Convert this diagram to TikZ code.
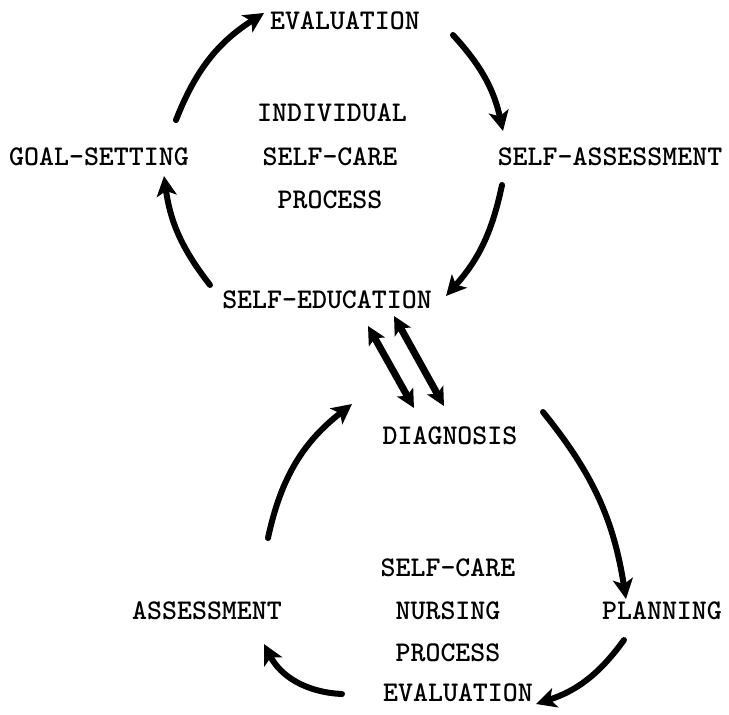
\documentclass[tikz,border=0pt]{standalone}
\usetikzlibrary{arrows.meta}
\begin{document}
\begin{tikzpicture}[x=1pt,y=-1pt,
  lbl/.style={font=\fontsize{28.5}{30}\selectfont\ttfamily\bfseries, inner sep=0pt},
  flow/.style={line width=6pt, line cap=round, -{Stealth[length=20pt,width=20pt,inset=5pt]}},
  twoway/.style={line width=7pt, {Stealth[length=18pt,width=18pt,inset=4pt]}-{Stealth[length=18pt,width=18pt,inset=4pt]}}]
\useasboundingbox (0,0) rectangle (729,715);

% upper cycle: individual self-care process
\node[lbl] (ev1) at (345,21) {EVALUATION};
\node[lbl] (gs)  at (99,157) {GOAL-SETTING};
\node[lbl] (sa)  at (610,157) {SELF-ASSESSMENT};
\node[lbl] (se)  at (327,300) {SELF-EDUCATION};
\node[lbl] (c1a) at (332,113) {INDIVIDUAL};
\node[lbl] (c1b) at (330,157) {SELF-CARE};
\node[lbl] (c1c) at (330,200) {PROCESS};

% lower cycle: self-care nursing process
\node[lbl] (dg)  at (450,436) {DIAGNOSIS};
\node[lbl] (as)  at (207,611) {ASSESSMENT};
\node[lbl] (pl)  at (662,611) {PLANNING};
\node[lbl] (ev2) at (458,693) {EVALUATION};
\node[lbl] (c2a) at (448,568) {SELF-CARE};
\node[lbl] (c2b) at (448,611) {NURSING};
\node[lbl] (c2c) at (448,653) {PROCESS};

% arrow end points
\coordinate (a1s) at (176,120); \coordinate (a1e) at (264,13);
\coordinate (a2s) at (453,35);  \coordinate (a2e) at (503,131);
\coordinate (a3s) at (502,185); \coordinate (a3e) at (446,296);
\coordinate (a4s) at (210,285); \coordinate (a4e) at (164,176);

\coordinate (b1s) at (268,538); \coordinate (b1e) at (352,404);
\coordinate (b2s) at (543,412); \coordinate (b2e) at (626,599);
\coordinate (b3s) at (624,640); \coordinate (b3e) at (536,704);
\coordinate (b4s) at (342,694); \coordinate (b4e) at (264,644);

\coordinate (d1a) at (368,326); \coordinate (d1b) at (414,408);
\coordinate (d2a) at (394,316); \coordinate (d2b) at (444,406);

\draw[flow] (a1s) to[bend left=18] (a1e);
\draw[flow] (a2s) to[bend left=15] (a2e);
\draw[flow] (a3s) to[bend left=15] (a3e);
\draw[flow] (a4s) to[bend left=15] (a4e);

\draw[flow] (b1s) to[bend left=20] (b1e);
\draw[flow] (b2s) to[bend left=15] (b2e);
\draw[flow] (b3s) to[bend left=18] (b3e);
\draw[flow] (b4s) to[bend left=30] (b4e);

\draw[twoway] (d1a) -- (d1b);
\draw[twoway] (d2a) -- (d2b);
\end{tikzpicture}
\end{document}
